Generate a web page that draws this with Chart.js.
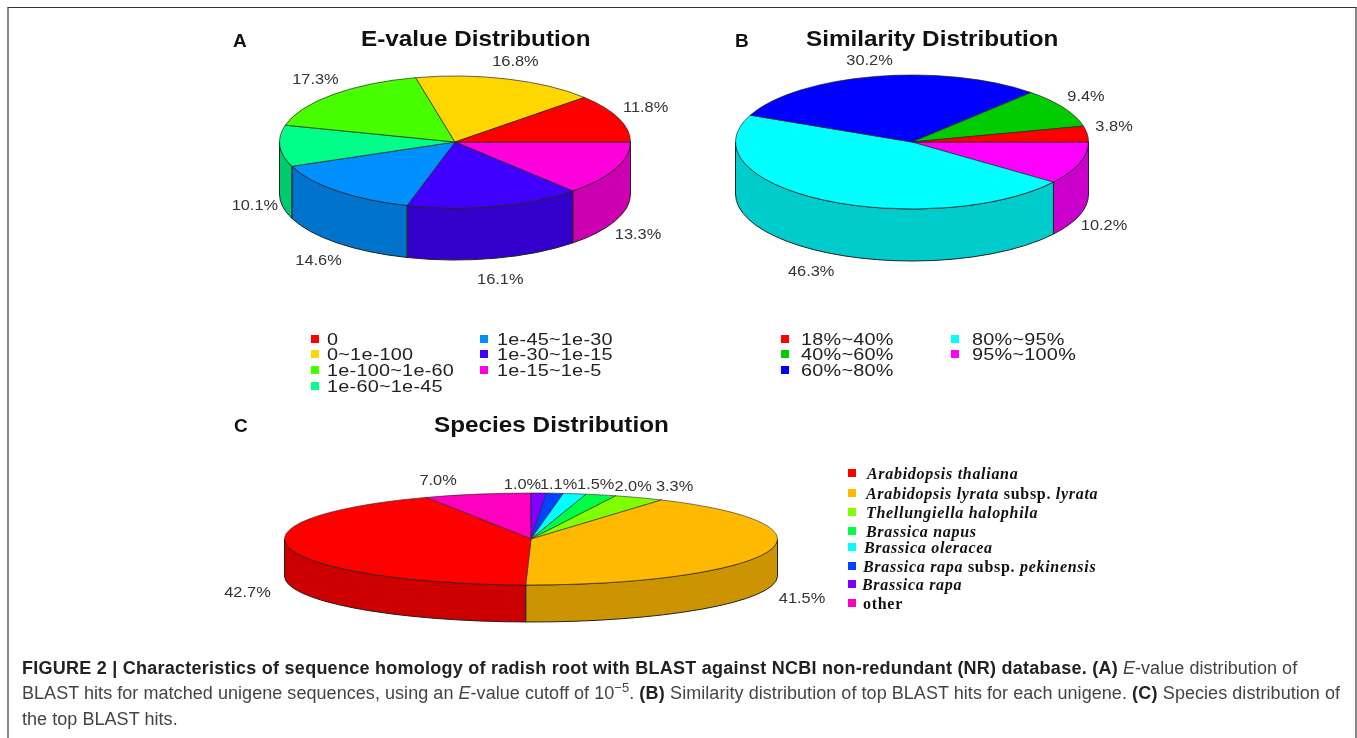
<!DOCTYPE html>
<html>
<head>
<meta charset="utf-8">
<title>Sequence homology of radish root</title>
<script src="https://cdn.jsdelivr.net/npm/chart.js@4"></script>
<style>
html, body { margin: 0; padding: 0; width: 1357px; height: 738px; overflow: hidden; background: #fff; }
#frame { position: absolute; left: 7px; top: 7px; width: 1346px; height: 800px; border: 2px solid #888; border-top: 1.5px solid #333; }
canvas { position: absolute; }
.txt { position: absolute; white-space: nowrap; line-height: 1; transform-origin: left center; }
.title { font: bold 21.5px "Liberation Sans", sans-serif; transform: scaleX(1.13); color: #111; }
.panel { font: bold 19px "Liberation Sans", sans-serif; color: #111; }
.leg { font: 16px "Liberation Sans", sans-serif; letter-spacing: 0.2px; transform: scaleX(1.24); color: #222; }
.sp { font: bold 16px "Liberation Serif", serif; letter-spacing: 0.7px; color: #111; }
.box { position: absolute; width: 8px; height: 8px; }
.cap { font: 18px "Liberation Sans", sans-serif; color: #444; letter-spacing: 0.05px; }
.cap b { color: #222; letter-spacing: 0.25px; }
.cap sup { font-size: 13px; line-height: 0; }
</style>
</head>
<body>
<div id="frame"></div>
<script>
//chart values
var evalueLabels = ["0", "0~1e-100", "1e-100~1e-60", "1e-60~1e-45", "1e-45~1e-30", "1e-30~1e-15", "1e-15~1e-5"];
var evaluePercents = [11.8, 16.8, 17.3, 10.1, 14.6, 16.1, 13.3];
var evalueColors = ["#ff0000", "#ffd700", "#48ff00", "#00ff88", "#0090ff", "#4000ff", "#ff00dd"];

var similarityLabels = ["18%~40%", "40%~60%", "60%~80%", "80%~95%", "95%~100%"];
var similarityPercents = [3.8, 9.4, 30.2, 46.3, 10.2];
var similarityColors = ["#ff0000", "#00cc00", "#0000ff", "#00ffff", "#ff00ff"];

var speciesLabels = ["<i>Arabidopsis thaliana</i>", "<i>Arabidopsis lyrata</i> subsp. <i>lyrata</i>",
	"<i>Thellungiella halophila</i>", "<i>Brassica napus</i>", "<i>Brassica oleracea</i>",
	"<i>Brassica rapa</i> subsp. <i>pekinensis</i>", "<i>Brassica rapa</i>", "other"];
var speciesPercents = [42.7, 41.5, 3.3, 2.0, 1.5, 1.1, 1.0, 7.0];
var speciesColors = ["#ff0000", "#ffb900", "#80ff00", "#00ff44", "#00ffff", "#0044ff", "#8000ff", "#ff00bf"];

//darker color for the side of the pie
function darken(hex){
	var n = parseInt(hex.substring(1), 16);
	var r = Math.round((n >> 16 & 255) * 0.8);
	var g = Math.round((n >> 8 & 255) * 0.8);
	var b = Math.round((n & 255) * 0.8);
	return "rgb(" + r + "," + g + "," + b + ")";
}

//tilts the pie, draws the side and the percent labels
var tiltPlugin = {
	id: 'tilt',
	beforeDatasetsDraw: function(chart, args, opts){
		var ctx = chart.ctx;
		var arcs = chart.getDatasetMeta(0).data;
		var cols = chart.data.datasets[0].backgroundColor;
		var two = Math.PI * 2;
		for(var i = 0; i < arcs.length; i++){
			var a = arcs[i];
			for(var k = -1; k < 3; k++){
				var s = Math.max(a.startAngle, two * k);
				var e = Math.min(a.endAngle, two * k + Math.PI);
				if(e <= s){ continue; }
				ctx.beginPath();
				ctx.ellipse(a.x, a.y, a.outerRadius, opts.ry, 0, s, e);
				ctx.ellipse(a.x, a.y + opts.depth, a.outerRadius, opts.ry, 0, e, s, true);
				ctx.closePath();
				ctx.fillStyle = darken(cols[i]);
				ctx.fill();
				ctx.strokeStyle = "#222";
				ctx.lineWidth = 1;
				ctx.stroke();
			}
		}
		var first = arcs[0];
		ctx.save();
		ctx.translate(first.x, first.y);
		ctx.scale(1, opts.ry / first.outerRadius);
		ctx.translate(-first.x, -first.y);
	},
	afterDatasetsDraw: function(chart, args, opts){
		var ctx = chart.ctx;
		ctx.restore();
		var arcs = chart.getDatasetMeta(0).data;
		var values = chart.data.datasets[0].data;
		ctx.font = '14px "Liberation Sans", sans-serif';
		ctx.fillStyle = "#333";
		ctx.textAlign = "center";
		ctx.textBaseline = "middle";
		for(var i = 0; i < arcs.length; i++){
			var a = arcs[i];
			var mid = (a.startAngle + a.endAngle) / 2;
			var sin = Math.sin(mid);
			var nudge = opts.nudges[i];
			var x = a.x + (a.outerRadius + 28) * Math.cos(mid) + nudge[0];
			var y = a.y + (opts.ry + 20) * sin + (sin > 0 ? opts.depth : 0) + nudge[1];
			//the percent text in the picture is stretched sideways
			ctx.save();
			ctx.translate(x, y);
			ctx.scale(1.17, 1);
			ctx.fillText(values[i].toFixed(1) + "%", 0, 0);
			ctx.restore();
		}
	}
};

//one pie in its own canvas, slices run clockwise so the arrays go in reversed
function drawPie(values, colors, opts){
	var margin = 110;
	var size = opts.rx * 2 + 2;
	var canvas = document.createElement('canvas');
	canvas.width = size + margin * 2;
	canvas.height = size;
	canvas.style.left = (opts.cx - opts.rx - 1 - margin) + 'px';
	canvas.style.top = (opts.cy - opts.rx - 1) + 'px';
	document.body.appendChild(canvas);
	return new Chart(canvas, {
		type: 'pie',
		data: {
			labels: values.map(String).reverse(),
			datasets: [{
				data: values.slice().reverse(),
				backgroundColor: colors.slice().reverse(),
				borderColor: "#222",
				borderWidth: 1
			}]
		},
		options: {
			responsive: false,
			animation: false,
			events: [],
			rotation: opts.rotation,
			layout: { padding: { left: margin, right: margin } },
			plugins: {
				legend: { display: false },
				tooltip: { enabled: false },
				tilt: { ry: opts.ry, depth: opts.depth, nudges: opts.nudges }
			}
		},
		plugins: [tiltPlugin]
	});
}

function addText(cls, x, y, html){
	var d = document.createElement('div');
	d.className = 'txt ' + cls;
	d.style.left = x + 'px';
	d.style.top = y + 'px';
	d.innerHTML = html;
	document.body.appendChild(d);
	return d;
}

//legend written in columns, the colored square goes before the text
function addLegend(labels, colors, cols, rowsY, perCol){
	for(var i = 0; i < labels.length; i++){
		var col = i < perCol ? 0 : 1;
		var y = rowsY[col === 0 ? i : i - perCol];
		var box = document.createElement('div');
		box.className = 'box';
		box.style.left = cols[col][0] + 'px';
		box.style.top = (y - 4) + 'px';
		box.style.background = colors[i];
		document.body.appendChild(box);
		addText('leg', cols[col][1], y - 8, labels[i]);
	}
}

// the nudges move each percent label to where the picture has it, in slice order (clockwise)
drawPie(evaluePercents, evalueColors, {
	cx: 455, cy: 142, rx: 175, ry: 66, depth: 52, rotation: 90,
	nudges: [[-3, 6], [-1, 2], [0, 3], [3, 7], [2, 0], [0, 2], [1, -3]]
});
drawPie(similarityPercents, similarityColors, {
	cx: 912, cy: 142, rx: 176, ry: 67, depth: 52, rotation: 90,
	nudges: [[-2, 5], [2, 3], [0, 4], [-2, -1], [-1, -4]]
});
drawPie(speciesPercents, speciesColors, {
	cx: 531, cy: 539, rx: 246, ry: 46, depth: 37, rotation: -25.2,
	nudges: [[-33, 7], [-17, 12], [1, 12], [16, 11], [24, 11], [23, 7], [8, 4], [-15, 3]]
});

addText('panel', 233, 30, 'A');
addText('panel', 735, 30, 'B');
addText('panel', 234, 415, 'C');
addText('title', 361, 27, 'E-value Distribution');
addText('title', 806, 27, 'Similarity Distribution');
addText('title', 434, 413, 'Species Distribution');

var legendRows = [339, 354, 370, 386];
addLegend(evalueLabels, evalueColors, [[311, 327], [480, 497]], legendRows, 4);
addLegend(similarityLabels, similarityColors, [[781, 801], [951, 972]], legendRows, 3);

var speciesRows = [473, 493, 512, 531, 547, 566, 584, 603];
var speciesTextX = [867, 866, 866, 866, 864, 863, 862, 863];
for(var i = 0; i < speciesLabels.length; i++){
	var box = document.createElement('div');
	box.className = 'box';
	box.style.left = '848px';
	box.style.top = (speciesRows[i] - 4) + 'px';
	box.style.background = speciesColors[i];
	document.body.appendChild(box);
	addText('sp', speciesTextX[i], speciesRows[i] - 8, speciesLabels[i]);
}

addText('cap', 22, 658, '<b>FIGURE 2 | Characteristics of sequence homology of radish root with BLAST against NCBI non-redundant (NR) database. (A)</b> <i>E</i>-value distribution of');
addText('cap', 22, 683, 'BLAST hits for matched unigene sequences, using an <i>E</i>-value cutoff of 10<sup>\u22125</sup>. <b>(B)</b> Similarity distribution of top BLAST hits for each unigene. <b>(C)</b> Species distribution of');
addText('cap', 22, 709, 'the top BLAST hits.');
</script>
</body>
</html>
